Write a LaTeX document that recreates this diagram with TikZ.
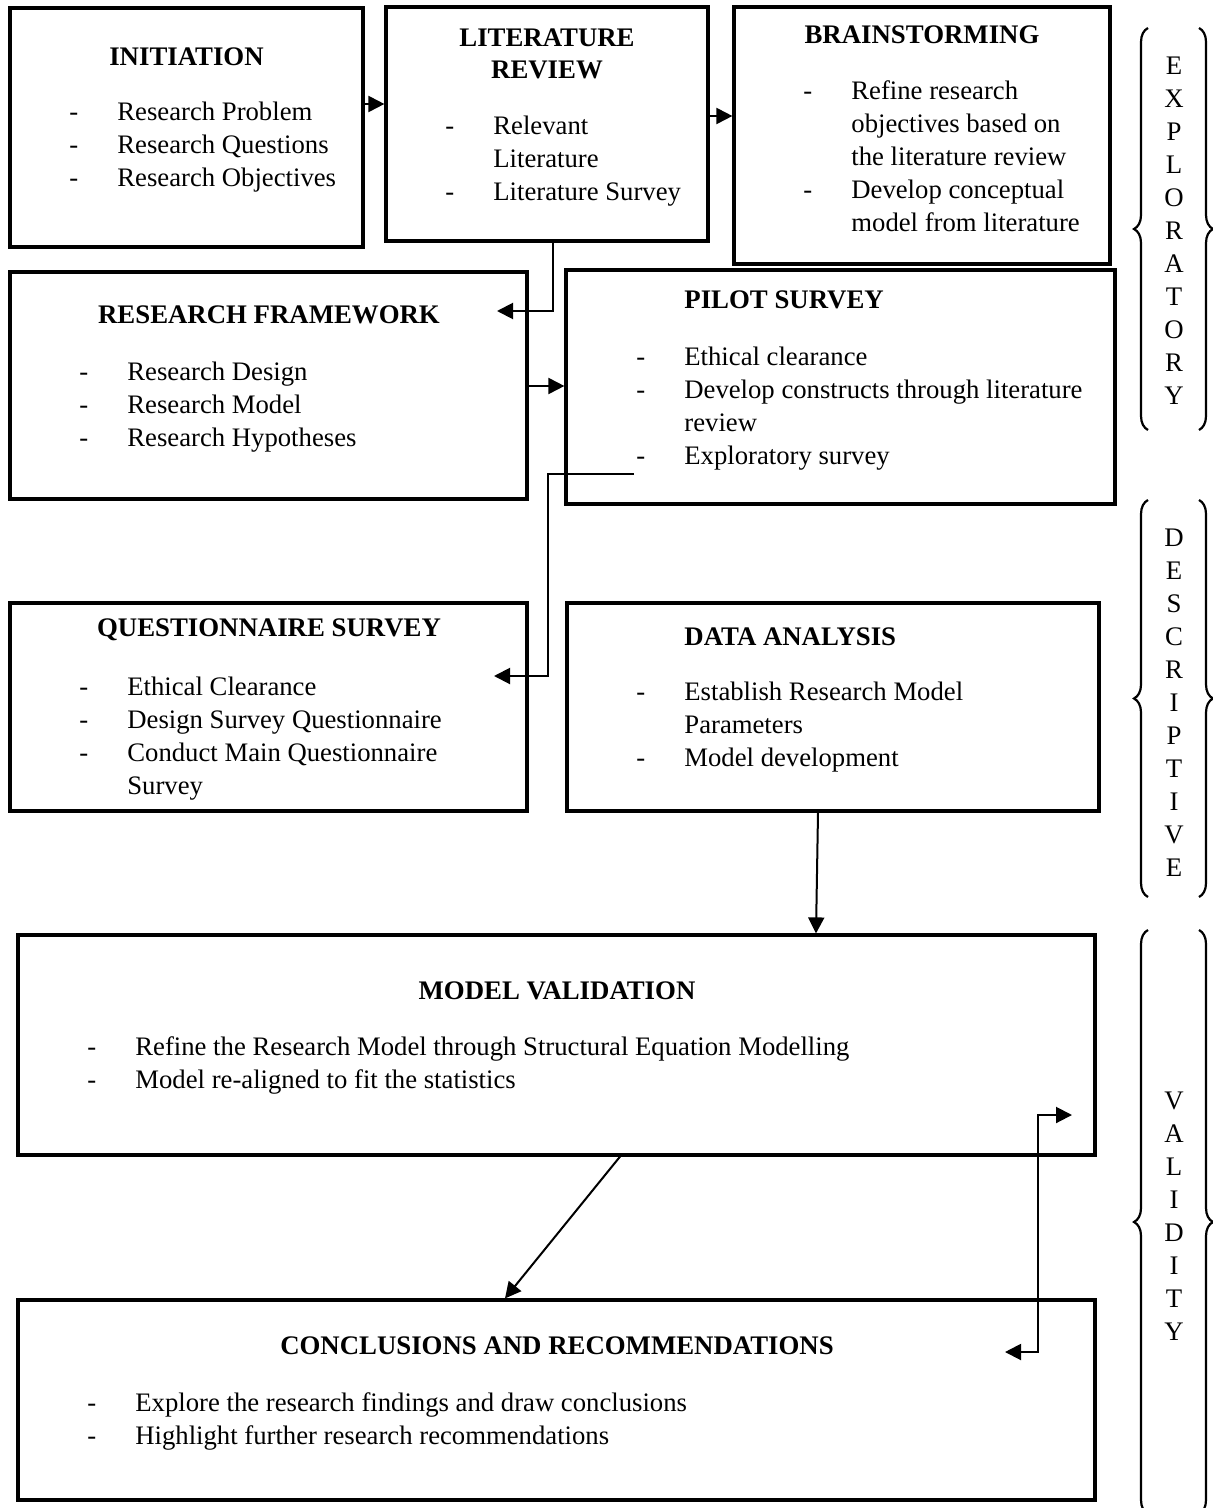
\documentclass[tikz,border=0pt]{standalone}
\usepackage{fontspec}
\setmainfont{Liberation Serif}
\usetikzlibrary{arrows.meta,fit,decorations.pathreplacing}

\tikzset{
  box/.style={draw, line width=1.6pt, inner sep=0pt},
  title/.style={font=\fontsize{13.4}{16}\selectfont\bfseries, align=center, inner sep=0pt},
  items/.style={anchor=base west, inner sep=0pt, font=\fontsize{13.35}{16.5}\selectfont},
  conn/.style={line width=1pt, -{Triangle[length=8pt,width=8pt]}},
  sidelbl/.style={font=\fontsize{13.4}{16.5}\selectfont, align=center, inner sep=0pt},
  bracket/.style={line width=1.1pt, decorate, decoration={brace, amplitude=7pt}}
}
\newcommand{\steplist}[1]{\begin{tabular}[t]{@{}p{24pt}@{}l@{}}#1\end{tabular}}

\begin{document}
\begin{tikzpicture}[x=0.5pt,y=-0.5pt]
  \useasboundingbox (0,0) rectangle (1213,1508);

  % boxes
  \node[box, fit={(10,8) (363,247)}] (init) {};
  \node[box, fit={(386,7) (708,241)}] (lit) {};
  \node[box, fit={(734,7) (1110,264)}] (brain) {};
  \node[box, fit={(10,272) (527,499)}] (rf) {};
  \node[box, fit={(566,270) (1115,504)}] (pilot) {};
  \node[box, fit={(10,603) (527,811)}] (qs) {};
  \node[box, fit={(567,603) (1099,811)}] (da) {};
  \node[box, fit={(18,935) (1095,1155)}] (mv) {};
  \node[box, fit={(18,1300) (1095,1500)}] (conc) {};

  % titles
  \node[title] (inittitle) at (186.5,57) {INITIATION};
  \node[title] (littitle) at (547,54) {LITERATURE\\REVIEW};
  \node[title] (braintitle) at (922,35) {BRAINSTORMING};
  \node[title] (rftitle) at (269,315) {RESEARCH FRAMEWORK};
  \node[title, anchor=west] (pilottitle) at (684,300) {PILOT SURVEY};
  \node[title] (qstitle) at (269,630) {QUESTIONNAIRE SURVEY};
  \node[title, anchor=west] (datitle) at (684,637) {DATA ANALYSIS};
  \node[title] (mvtitle) at (557,991) {MODEL VALIDATION};
  \node[title] (conctitle) at (557,1346) {CONCLUSIONS AND RECOMMENDATIONS};

  % lists
  \node[items] (inititems) at (69,121) {\steplist{-&Research Problem\\ -&Research Questions\\ -&Research Objectives}};
  \node[items] (lititems) at (445,135) {\steplist{-&Relevant\\ &Literature\\ -&Literature Survey}};
  \node[items] (brainitems) at (803,100) {\steplist{-&Refine research\\ &objectives based on\\ &the literature review\\ -&Develop conceptual\\ &model from literature}};
  \node[items] (rfitems) at (79,380) {\steplist{-&Research Design\\ -&Research Model\\ -&Research Hypotheses}};
  \node[items] (pilotitems) at (636,365) {\steplist{-&Ethical clearance\\ -&Develop constructs through literature\\ &review\\ -&Exploratory survey}};
  \node[items] (qsitems) at (79,695) {\steplist{-&Ethical Clearance\\ -&Design Survey Questionnaire\\ -&Conduct Main Questionnaire\\ &Survey}};
  \node[items] (daitems) at (636,700) {\steplist{-&Establish Research Model\\ &Parameters\\ -&Model development}};
  \node[items] (mvitems) at (87,1055) {\steplist{-&Refine the Research Model through Structural Equation Modelling\\ -&Model re-aligned to fit the statistics}};
  \node[items] (concitems) at (87,1411) {\steplist{-&Explore the research findings and draw conclusions\\ -&Highlight further research recommendations}};

  % connectors
  \coordinate (rfin) at (497,311);
  \coordinate (pilotout) at (634,474);
  \coordinate (qsin) at (494,676);
  \coordinate (concin) at (1005,1352);
  \coordinate (mvin) at (1072,1115);
  \draw[conn] (init.east |- 0,104) -- (lit.west |- 0,104);
  \draw[conn] (lit.east |- 0,116) -- (brain.west |- 0,116);
  \draw[conn] (lit.south -| 553,0) |- (rfin);
  \draw[conn] (rf.east |- 0,386) -- (pilot.west |- 0,386);
  \draw[conn] (pilotout) -| (548,676) -- (qsin);
  \draw[conn] (da.south -| 818,0) -- (mv.north -| 816,0);
  \draw[conn] (mv.south -| 620,0) -- (conc.north -| 505,0);
  \draw[conn, {Triangle[length=8pt,width=8pt]}-{Triangle[length=8pt,width=8pt]}] (concin) -| (1038,1115) -- (mvin);

  % phases
  \node[sidelbl] (explo) at (1174,231) {E\\X\\P\\L\\O\\R\\A\\T\\O\\R\\Y};
  \node[sidelbl] (descr) at (1174,703) {D\\E\\S\\C\\R\\I\\P\\T\\I\\V\\E};
  \node[sidelbl] (valid) at (1174,1216) {V\\A\\L\\I\\D\\I\\T\\Y};
  \draw[bracket] (1148,430) -- (1148,28);
  \draw[bracket] (1199,28) -- (1199,430);
  \draw[bracket] (1148,897) -- (1148,500);
  \draw[bracket] (1199,500) -- (1199,897);
  \draw[bracket] (1148,1514) -- (1148,930);
  \draw[bracket] (1199,930) -- (1199,1514);
\end{tikzpicture}
\end{document}
